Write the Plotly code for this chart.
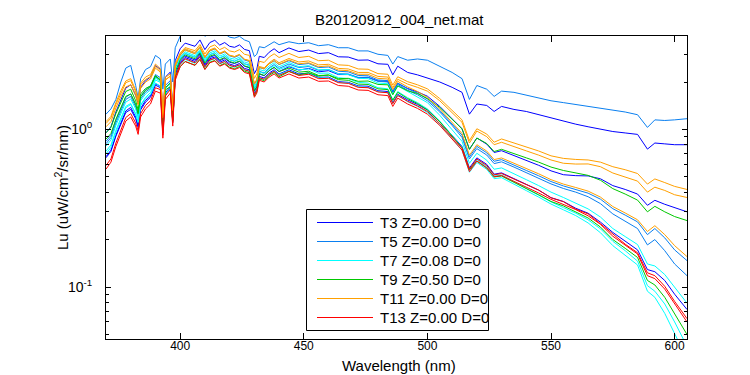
import plotly.graph_objects as go

# Wavelength grid (nm)
wavelength = [370,372,374,376,378,380,382,383,384,386,
              388,390,392,393,394,396,397,398,400,402,
              404,406,408,410,412,414,416,418,420,422,
              424,426,428,430,431,432,434,436,438,440,
              444,448,452,456,460,464,468,472,476,480,
              484,486,488,492,496,500,505,510,514,517,
              520,524,527,530,535,540,545,550,555,560,
              565,570,575,580,585,589,592,596,600,605]

# T3 (blue) spectra
t3_a = [0.952,1.04,1.29,1.56,1.83,1.92,1.65,1.45,1.85,2.04,
        2.15,2.54,2.41,1.24,2.15,2.31,1.41,2.73,3.25,3.53,
        3.45,3.37,3.70,3.21,3.56,3.68,3.43,3.56,3.37,3.32,
        3.44,3.22,3.16,2.26,2.41,2.91,2.86,3.09,3.25,3.07,
        3.29,3.12,3.19,3.03,3.07,2.89,2.88,2.75,2.76,2.61,
        2.59,2.22,2.52,2.30,2.22,2.13,2.00,1.85,1.72,1.25,
        1.45,1.42,1.30,1.40,1.34,1.30,1.24,1.18,1.12,1.08,
        1.04,1.00,0.97,0.95,0.93,0.75,0.82,0.81,0.80,0.80]
t3_b = [0.672,0.738,0.92,1.11,1.31,1.38,1.20,1.06,1.36,1.53,
        1.63,1.95,1.88,0.972,1.71,1.86,1.14,2.23,2.70,2.92,
        2.83,2.76,3.01,2.60,2.87,2.95,2.73,2.83,2.67,2.62,
        2.70,2.52,2.46,1.75,1.86,2.25,2.19,2.36,2.47,2.33,
        2.50,2.38,2.44,2.32,2.36,2.23,2.23,2.13,2.14,2.03,
        2.02,1.73,1.96,1.82,1.73,1.625,1.40,1.17,1.01,0.75,
        0.882,0.807,0.714,0.733,0.685,0.636,0.592,0.546,0.516,0.509,
        0.507,0.486,0.44,0.416,0.389,0.33,0.355,0.335,0.318,0.30]
t3_c = [0.661,0.725,0.905,1.09,1.28,1.34,1.17,1.03,1.33,1.49,
        1.60,1.91,1.84,0.95,1.67,1.82,1.12,2.17,2.65,2.86,
        2.78,2.70,2.95,2.54,2.81,2.88,2.67,2.76,2.60,2.54,
        2.62,2.44,2.39,1.70,1.80,2.17,2.12,2.28,2.39,2.25,
        2.39,2.25,2.28,2.14,2.15,2.01,1.99,1.89,1.88,1.76,
        1.74,1.48,1.67,1.54,1.44,1.33,1.12,0.92,0.78,0.57,
        0.66,0.60,0.52,0.53,0.49,0.448,0.412,0.369,0.349,0.316,
        0.294,0.258,0.222,0.195,0.172,0.129,0.125,0.110,0.090,0.072]

# T5 (light blue) spectra
t5_a = [1.25,1.35,1.55,2.0,2.45,2.55,1.9,1.58,2.1,2.4,
        2.5,2.95,2.8,1.8,2.6,2.8,2.0,3.3,3.9,4.2,
        4.1,4.0,4.3,3.9,4.1,4.2,3.95,4.05,3.85,3.8,
        3.9,3.7,3.6,2.9,3.0,3.35,3.3,3.45,3.6,3.45,
        3.6,3.5,3.55,3.4,3.45,3.3,3.3,3.15,3.15,3.0,
        2.95,2.6,2.9,2.75,2.8,2.75,2.5,2.3,2.1,1.55,
        1.9,1.8,1.62,1.75,1.72,1.65,1.57,1.52,1.48,1.44,
        1.40,1.37,1.33,1.29,1.24,1.03,1.15,1.14,1.15,1.17]
t5_b = [0.84,0.918,1.14,1.37,1.60,1.68,1.44,1.27,1.62,1.79,
        1.89,2.23,2.13,1.09,1.90,2.04,1.25,2.41,2.97,3.20,
        3.11,3.03,3.31,2.85,3.15,3.24,3.01,3.10,2.93,2.87,
        2.96,2.76,2.70,1.93,2.05,2.47,2.42,2.61,2.73,2.58,
        2.73,2.58,2.62,2.47,2.49,2.34,2.32,2.20,2.19,2.06,
        2.04,1.75,1.97,1.81,1.70,1.56,1.32,1.08,0.92,0.67,
        0.781,0.711,0.628,0.643,0.597,0.549,0.508,0.467,0.438,0.416,
        0.394,0.361,0.314,0.286,0.259,0.215,0.235,0.205,0.172,0.147]
t5_c = [0.812,0.887,1.10,1.32,1.55,1.62,1.39,1.22,1.56,1.73,
        1.82,2.16,2.06,1.06,1.84,1.98,1.21,2.34,2.80,3.03,
        2.94,2.87,3.12,2.70,2.98,3.06,2.84,2.93,2.77,2.71,
        2.80,2.61,2.56,1.82,1.94,2.34,2.28,2.46,2.58,2.44,
        2.60,2.47,2.51,2.37,2.40,2.26,2.25,2.14,2.14,2.02,
        2.00,1.71,1.93,1.77,1.66,1.52,1.29,1.06,0.89,0.65,
        0.756,0.688,0.607,0.623,0.577,0.531,0.491,0.451,0.422,0.40,
        0.374,0.338,0.291,0.262,0.235,0.185,0.20,0.17,0.14,0.118]

# T7 (cyan) spectra
t7_a = [0.784,0.856,1.06,1.27,1.49,1.56,1.35,1.18,1.52,1.68,
        1.78,2.12,2.02,1.04,1.81,1.96,1.20,2.34,2.83,3.05,
        2.96,2.88,3.14,2.71,2.99,3.07,2.85,2.94,2.77,2.71,
        2.79,2.60,2.54,1.81,1.92,2.32,2.26,2.43,2.54,2.40,
        2.54,2.39,2.42,2.27,2.28,2.13,2.10,1.99,1.97,1.84,
        1.81,1.54,1.74,1.59,1.48,1.35,1.13,0.915,0.77,0.557,
        0.643,0.58,0.507,0.514,0.466,0.423,0.384,0.347,0.319,0.294,
        0.267,0.234,0.195,0.170,0.146,0.102,0.094,0.078,0.060,0.042]
t7_b = [0.728,0.796,0.989,1.19,1.40,1.46,1.26,1.11,1.42,1.57,
        1.66,1.97,1.88,0.964,1.68,1.82,1.11,2.15,2.58,2.78,
        2.70,2.63,2.87,2.48,2.74,2.81,2.61,2.69,2.54,2.49,
        2.56,2.39,2.34,1.66,1.77,2.13,2.08,2.24,2.35,2.23,
        2.36,2.22,2.26,2.12,2.13,1.99,1.97,1.87,1.85,1.74,
        1.71,1.46,1.65,1.50,1.40,1.28,1.08,0.872,0.737,0.535,
        0.617,0.558,0.487,0.494,0.452,0.409,0.372,0.336,0.309,0.284,
        0.255,0.221,0.183,0.158,0.138,0.094,0.086,0.068,0.051,0.035]
t7_c = [0.70,0.769,0.959,1.16,1.37,1.44,1.25,1.11,1.43,1.60,
        1.71,2.06,1.99,1.03,1.81,1.97,1.22,2.37,2.88,3.11,
        3.02,2.94,3.21,2.77,3.06,3.15,2.92,3.01,2.84,2.79,
        2.87,2.68,2.62,1.87,1.99,2.40,2.35,2.53,2.65,2.50,
        2.66,2.50,2.54,2.39,2.40,2.25,2.23,2.11,2.10,1.97,
        1.95,1.67,1.89,1.74,1.62,1.48,1.23,1.00,0.84,0.61,
        0.706,0.638,0.559,0.57,0.525,0.48,0.44,0.40,0.37,0.341,
        0.313,0.278,0.235,0.209,0.186,0.14,0.136,0.12,0.10,0.079]

# T9 (green) spectra
t9_a = [0.952,1.03,1.26,1.50,1.74,1.80,1.52,1.33,1.68,1.82,
        1.89,2.19,2.04,1.03,1.78,1.87,1.13,2.15,2.50,2.70,
        2.62,2.56,2.79,2.41,2.67,2.74,2.54,2.63,2.48,2.43,
        2.51,2.34,2.29,1.63,1.74,2.09,2.04,2.20,2.30,2.16,
        2.33,2.22,2.29,2.18,2.22,2.10,2.11,2.02,2.03,1.93,
        1.92,1.66,1.89,1.76,1.69,1.57,1.38,1.16,1.01,0.746,
        0.882,0.814,0.724,0.748,0.706,0.66,0.62,0.577,0.549,0.53,
        0.511,0.476,0.421,0.389,0.356,0.30,0.325,0.30,0.28,0.264]
t9_b = [0.868,0.942,1.16,1.39,1.62,1.68,1.44,1.26,1.61,1.77,
        1.86,2.19,2.07,1.06,1.84,1.97,1.20,2.32,2.75,2.97,
        2.88,2.81,3.06,2.64,2.92,2.99,2.77,2.86,2.70,2.64,
        2.72,2.53,2.48,1.76,1.87,2.26,2.20,2.37,2.48,2.33,
        2.45,2.31,2.34,2.20,2.21,2.07,2.05,1.94,1.93,1.81,
        1.79,1.53,1.72,1.57,1.46,1.33,1.12,0.91,0.765,0.555,
        0.63,0.57,0.50,0.506,0.464,0.421,0.385,0.349,0.327,0.30,
        0.274,0.24,0.20,0.176,0.154,0.11,0.103,0.086,0.068,0.050]

# T11 (orange) spectra
t11_a = [1.12,1.21,1.48,1.76,2.03,2.10,1.78,1.55,1.97,2.15,
         2.23,2.60,2.43,1.24,2.14,2.25,1.37,2.61,3.05,3.31,
         3.23,3.16,3.46,3.01,3.34,3.44,3.21,3.32,3.15,3.10,
         3.21,3.00,2.95,2.11,2.25,2.71,2.66,2.88,3.02,2.86,
         3.04,2.86,2.91,2.73,2.75,2.57,2.55,2.42,2.41,2.26,
         2.24,1.91,2.16,2.01,1.92,1.81,1.57,1.33,1.15,0.85,
         1.01,0.935,0.83,0.87,0.82,0.77,0.73,0.68,0.655,0.645,
         0.64,0.62,0.58,0.555,0.525,0.45,0.485,0.46,0.435,0.416]
t11_b = [1.09,1.18,1.44,1.71,1.98,2.04,1.73,1.51,1.92,2.08,
         2.16,2.52,2.36,1.20,2.07,2.18,1.32,2.53,2.95,3.19,
         3.10,3.02,3.31,2.86,3.16,3.25,3.02,3.12,2.95,2.90,
         2.99,2.79,2.74,1.95,2.08,2.51,2.46,2.65,2.79,2.65,
         2.82,2.68,2.72,2.57,2.59,2.44,2.42,2.30,2.30,2.17,
         2.15,1.84,2.08,1.94,1.85,1.75,1.52,1.28,1.11,0.82,
         0.977,0.90,0.80,0.829,0.782,0.731,0.687,0.64,0.61,0.603,
         0.604,0.58,0.529,0.50,0.47,0.40,0.43,0.41,0.385,0.37]
t11_c = [1.04,1.12,1.37,1.62,1.86,1.92,1.64,1.43,1.82,2.00,
         2.09,2.45,2.31,1.18,2.05,2.18,1.32,2.54,3.00,3.25,
         3.16,3.08,3.36,2.90,3.20,3.29,3.05,3.15,2.96,2.90,
         2.99,2.79,2.72,1.94,2.06,2.48,2.42,2.61,2.73,2.59,
         2.76,2.61,2.65,2.50,2.53,2.38,2.36,2.24,2.24,2.11,
         2.09,1.79,2.02,1.86,1.74,1.60,1.35,1.11,0.943,0.687,
         0.80,0.729,0.644,0.659,0.612,0.564,0.523,0.48,0.45,0.428,
         0.406,0.372,0.324,0.295,0.267,0.225,0.245,0.215,0.183,0.156]

# T13 (red) spectra
t13_a = [0.56,0.62,0.78,0.95,1.13,1.20,1.05,0.93,1.20,1.35,
         1.45,1.75,1.70,0.88,1.55,1.70,1.05,2.05,2.50,2.70,
         2.62,2.55,2.78,2.40,2.65,2.72,2.52,2.60,2.45,2.40,
         2.47,2.30,2.25,1.60,1.70,2.05,2.00,2.15,2.25,2.12,
         2.25,2.12,2.15,2.02,2.03,1.90,1.88,1.78,1.77,1.66,
         1.64,1.40,1.58,1.45,1.36,1.25,1.06,0.87,0.74,0.54,
         0.63,0.57,0.50,0.51,0.47,0.43,0.395,0.36,0.335,0.31,
         0.283,0.25,0.21,0.185,0.162,0.118,0.113,0.097,0.078,0.060]
t13_b = [0.59,0.65,0.82,1.00,1.19,1.26,1.10,0.98,1.26,1.42,
         1.52,1.84,1.79,0.92,1.63,1.79,1.10,2.15,2.60,2.81,
         2.72,2.65,2.89,2.50,2.76,2.83,2.62,2.70,2.55,2.50,
         2.57,2.39,2.34,1.66,1.77,2.13,2.08,2.24,2.34,2.20,
         2.34,2.20,2.24,2.10,2.11,1.98,1.96,1.85,1.84,1.73,
         1.71,1.46,1.64,1.51,1.41,1.30,1.09,0.90,0.76,0.56,
         0.65,0.59,0.515,0.525,0.484,0.443,0.412,0.368,0.348,0.312,
         0.291,0.252,0.217,0.187,0.165,0.123,0.118,0.101,0.081,0.063]

legend_labels = ["T3 Z=0.00 D=0", "T5 Z=0.00 D=0", "T7 Z=0.08 D=0",
                 "T9 Z=0.50 D=0", "T11 Z=0.00 D=0", "T13 Z=0.00 D=0"]
group_colors = ["#0000FF", "#0A7FF0", "#00FFFF", "#00C800", "#FFA000", "#FF0000"]
groups = [
    [t3_a, t3_b, t3_c],
    [t5_a, t5_b, t5_c],
    [t7_a, t7_b, t7_c],
    [t9_a, t9_b],
    [t11_a, t11_b, t11_c],
    [t13_b, t13_a],
]

FONT = "Liberation Sans, Arial, Helvetica, sans-serif"

# plot-area geometry in pixels (for MATLAB-style legend box and labels)
W, H = 750, 375
ML, MR, MT, MB = 98, 71, 28, 44
PW, PH = W - ML - MR, H - MT - MB


def px_x(px):
    return (px - ML) / PW


def px_y(py):
    return (H - MB - py) / PH


fig = go.Figure()
for label, color, series_list in zip(legend_labels, group_colors, groups):
    for ys in series_list:
        fig.add_trace(go.Scatter(
            x=wavelength, y=ys, mode="lines",
            line=dict(color=color, width=1),
            name=label, showlegend=False,
        ))

# MATLAB-style legend: box, line samples, labels
shapes = [dict(type="rect", xref="paper", yref="paper",
               x0=px_x(298.5), x1=px_x(480.5), y0=px_y(322.5), y1=px_y(201.5),
               line=dict(color="black", width=1), fillcolor="white", layer="above")]
annotations = []
row0, row_step = 214.5, 19.0
for i, (label, color) in enumerate(zip(legend_labels, group_colors)):
    yy = px_y(row0 + i * row_step)
    shapes.append(dict(type="line", xref="paper", yref="paper",
                       x0=px_x(309), x1=px_x(365), y0=yy, y1=yy,
                       line=dict(color=color, width=1.2), layer="above"))
    annotations.append(dict(text=label, xref="paper", yref="paper",
                            x=px_x(370), y=yy, xanchor="left", yanchor="middle",
                            showarrow=False, font=dict(size=15, family=FONT, color="black")))

# title and axis titles placed like the MATLAB figure
annotations.append(dict(text="B20120912_004_net.mat", xref="paper", yref="paper",
                        x=px_x(391), y=px_y(11), xanchor="center", yanchor="middle",
                        showarrow=False, font=dict(size=15, family=FONT, color="black")))
annotations.append(dict(text="Wavelength (nm)", xref="paper", yref="paper",
                        x=px_x(391), y=px_y(357), xanchor="center", yanchor="middle",
                        showarrow=False, font=dict(size=15, family=FONT, color="black")))
annotations.append(dict(text="Lu (uW/cm<sup>2</sup>/sr/nm)", xref="paper", yref="paper",
                        x=px_x(53), y=px_y(180), xanchor="center", yanchor="middle",
                        textangle=-90, showarrow=False,
                        font=dict(size=15, family=FONT, color="black")))

minor_vals = [0.05, 0.06, 0.07, 0.08, 0.09, 0.2, 0.3, 0.4, 0.5, 0.6, 0.7, 0.8, 0.9, 2, 3]

fig.update_layout(
    width=W, height=H, autosize=False,
    margin=dict(l=ML, r=MR, t=MT, b=MB),
    paper_bgcolor="white", plot_bgcolor="white",
    font=dict(family=FONT, size=12, color="black"),
    showlegend=False,
    shapes=shapes,
    annotations=annotations,
    xaxis=dict(range=[370, 605], showgrid=False, zeroline=False,
               showline=True, linecolor="black", linewidth=1, mirror="ticks",
               ticks="inside", ticklen=6, tickcolor="black",
               tickvals=[400, 450, 500, 550, 600], ticklabelstandoff=-4,
               tickfont=dict(size=12, family=FONT)),
    yaxis=dict(type="log", range=[-1.33, 0.593], showgrid=False, zeroline=False,
               showline=True, linecolor="black", linewidth=1, mirror="ticks",
               ticks="inside", ticklen=5, tickcolor="black",
               tickvals=[0.1, 1], ticktext=["10<sup>-1</sup>", "10<sup>0</sup>"],
               tickfont=dict(size=14, family=FONT), ticklabelstandoff=10,
               minor=dict(ticks="inside", ticklen=3, tickcolor="black", tickvals=minor_vals)),
)

fig.write_html("out.html")
